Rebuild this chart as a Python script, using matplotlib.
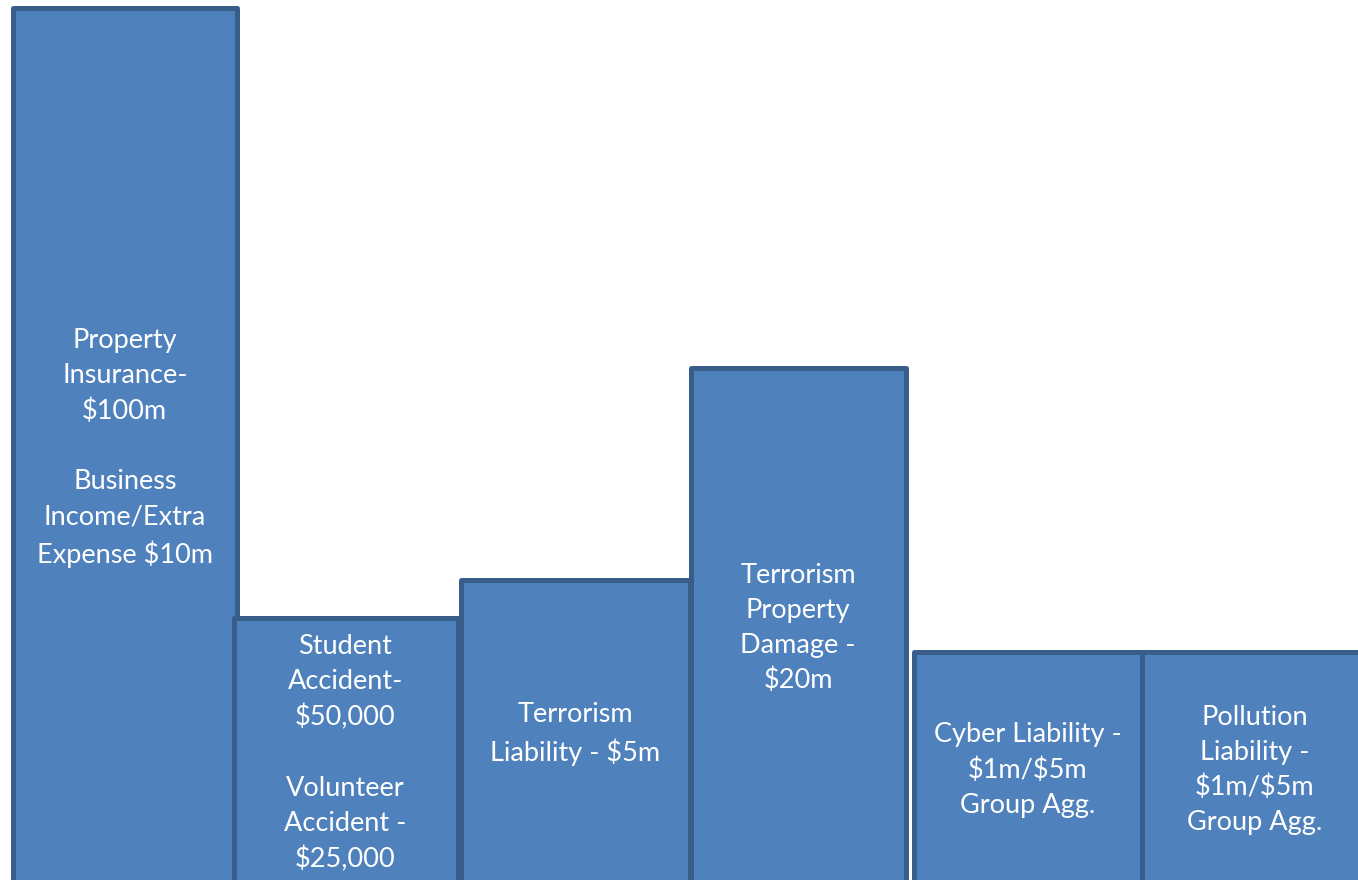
import matplotlib
matplotlib.use("Agg")
import matplotlib.pyplot as plt

# Coverage categories (labels drawn inside each bar)
labels = [
    "Property\nInsurance-\n$100m\n\nBusiness\nIncome/Extra\nExpense $10m",
    "Student\nAccident-\n$50,000\n\nVolunteer\nAccident -\n$25,000",
    "Terrorism\nLiability - $5m",
    "Terrorism\nProperty\nDamage -\n$20m",
    "Cyber Liability -\n$1m/$5m\nGroup Agg.",
    "Pollution\nLiability -\n$1m/$5m\nGroup Agg.",
]
# Bar heights (relative units)
values = [872, 262, 300, 512, 228, 228]

# Layout (bar left edges and widths in axis units)
lefts = [13, 233.5, 460.5, 690.5, 913.5, 1142]
widths = [223.5, 224, 229.5, 215, 228, 226]
base = -8

fill = "#4F81BD"
edge = "#385D8A"

fig = plt.figure(figsize=(13.58, 8.8), dpi=100)
ax = fig.add_axes([0, 0, 1, 1])
ax.set_xlim(0, 1358)
ax.set_ylim(0, 880)
ax.axis("off")

heights = [v - base for v in values]
bars = ax.bar(lefts, heights, width=widths, bottom=base, align="edge",
              color=fill, edgecolor=edge, linewidth=3.6)
for b in bars:
    b.set_joinstyle("round")

for lab, l, w, v in zip(labels, lefts, widths, values):
    ax.text(l + w / 2, (base + v) / 2, lab, ha="center", va="center",
            color="white", fontsize=19.5, family=["Lato", "DejaVu Sans"],
            linespacing=1.5, parse_math=False)

fig.savefig("out.png", dpi=100)
